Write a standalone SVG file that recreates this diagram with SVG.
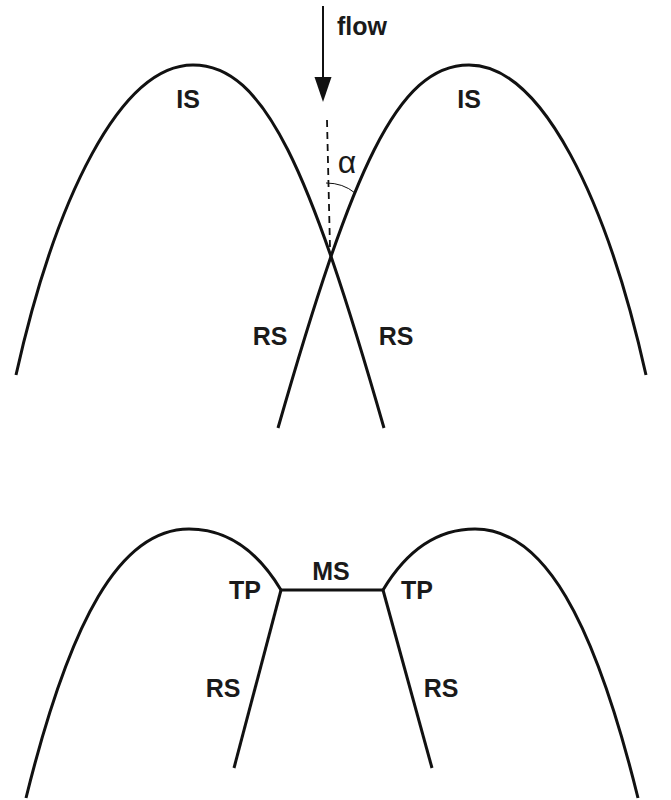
<svg xmlns="http://www.w3.org/2000/svg" width="671" height="800" viewBox="0 0 671 800">
<style>
.c{fill:none;stroke:#111;stroke-width:3;stroke-linecap:butt}
.t{font-family:"Liberation Sans",Arial,sans-serif;font-weight:bold;font-size:25px;fill:#1a1a1a;text-anchor:middle}
</style>
<rect width="671" height="800" fill="#fff"/>
<g id="top">
  <g id="top-left-shock"><path class="c" d="M16,375 C55,200 120,65 193,65 C265,65 310,170 384,428"/></g>
  <g id="top-right-shock"><path class="c" d="M646,375 C607,200 542,65 469,65 C397,65 352,170 278,428"/></g>
  <g id="flow-arrow">
    <line x1="323" y1="6" x2="323" y2="80" stroke="#111" stroke-width="2"/>
    <polygon points="314.5,77 331.5,77 323,102" fill="#111"/>
    <text class="t" x="362" y="35" font-size="26">flow</text>
  </g>
  <g id="angle">
    <line x1="327" y1="120" x2="330" y2="248" stroke="#111" stroke-width="1.8" stroke-dasharray="7,5"/>
    <path d="M326,183 Q343,183 355,193" fill="none" stroke="#111" stroke-width="1"/>
    <text x="347" y="173" font-family="Liberation Sans,Arial,sans-serif" font-size="32" text-anchor="middle" fill="#1a1a1a">α</text>
  </g>
  <text class="t" x="188" y="108">IS</text>
  <text class="t" x="469" y="108">IS</text>
  <text class="t" x="270" y="345">RS</text>
  <text class="t" x="396" y="345">RS</text>
</g>
<g id="bottom">
  <g id="bottom-left-shock"><path class="c" d="M26,798 C70,620 120,529 189,529 C230,529 260,555 281,590"/></g>
  <g id="bottom-right-shock"><path class="c" d="M638,798 C594,620 544,529 475,529 C434,529 404,555 383,590"/></g>
  <g id="connectors">
    <line class="c" x1="281" y1="590" x2="234" y2="768"/>
    <line class="c" x1="383" y1="590" x2="432" y2="768"/>
    <line class="c" x1="280" y1="590" x2="384" y2="590" stroke-width="4"/>
  </g>
  <text class="t" x="331" y="580" font-size="24">MS</text>
  <text class="t" x="245" y="599" font-size="24">TP</text>
  <text class="t" x="417" y="599" font-size="24">TP</text>
  <text class="t" x="223" y="697" font-size="24">RS</text>
  <text class="t" x="441" y="697" font-size="24">RS</text>
</g>
</svg>
